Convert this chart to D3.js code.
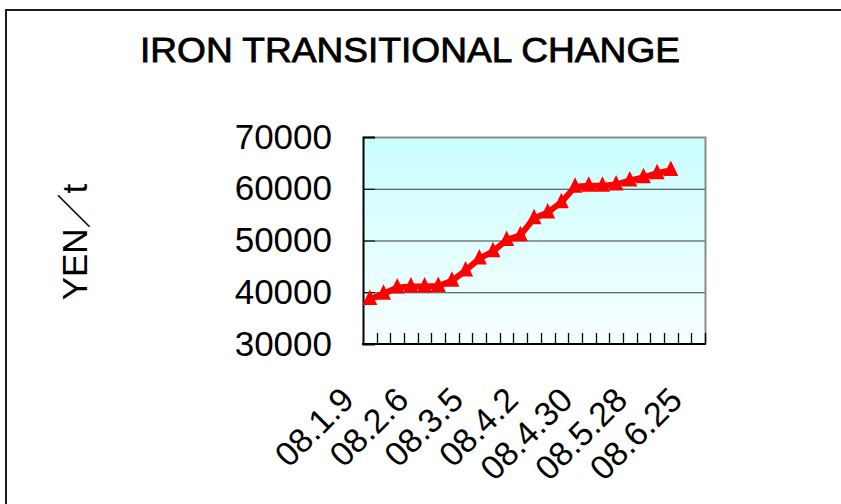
<!DOCTYPE html>
<head>
<meta charset="utf-8">
<script src="https://d3js.org/d3.v7.min.js"></script>
<style>
  body { margin: 0; background: #fff; }
  text { font-family: "Liberation Sans", Arial, "Noto Sans CJK JP", sans-serif; fill: #000; }
</style>
</head>
<body>
<div id="chart"></div>
<script>
  // weekly dates, 08.1.9 .. 08.6.25
  var weeks = ["08.1.9","08.1.16","08.1.23","08.1.30","08.2.6","08.2.13","08.2.20","08.2.27",
               "08.3.5","08.3.12","08.3.19","08.3.26","08.4.2","08.4.9","08.4.16","08.4.23",
               "08.4.30","08.5.7","08.5.14","08.5.21","08.5.28","08.6.4","08.6.11","08.6.18","08.6.25"];
  var shownLabels = ["08.1.9","08.2.6","08.3.5","08.4.2","08.4.30","08.5.28","08.6.25"];
  // price (YEN/t); last two weeks have no value
  var prices = [38700, 39700, 40900, 41100, 41100, 41200, 42200, 44200, 46500, 47900, 50100, 51000,
                54300, 55400, 57400, 60400, 60600, 60600, 60800, 61600, 62200, 63000, 63600];
  var yTicks = [30000, 40000, 50000, 60000, 70000];
  var gridValues = [40000, 50000, 60000];

  var width = 841, height = 504;
  var plot = {left: 363, top: 137, right: 705, bottom: 344};

  var svg = d3.select("#chart").append("svg")
      .attr("width", width)
      .attr("height", height);

  // outer chart frame
  svg.append("path")
      .attr("d", "M6,504 V10 H841")
      .attr("fill", "none")
      .attr("stroke", "#1a1a1a")
      .attr("stroke-width", 2);

  svg.append("text")
      .attr("x", 410).attr("y", 62)
      .attr("text-anchor", "middle")
      .attr("textLength", 540)
      .attr("lengthAdjust", "spacingAndGlyphs")
      .style("font-size", "35px")
      .style("stroke", "#000")
      .style("stroke-width", 0.8)
      .text("IRON TRANSITIONAL CHANGE");

  var x = d3.scaleBand().domain(weeks).range([plot.left, plot.right]).padding(0);
  var y = d3.scaleLinear().domain([30000, 70000]).range([plot.bottom, plot.top]);

  // plot background gradient
  var grad = svg.append("defs").append("linearGradient")
      .attr("id", "bg").attr("x1", 0).attr("y1", 0).attr("x2", 0).attr("y2", 1);
  grad.append("stop").attr("offset", "0%").attr("stop-color", "#c9fdfd");
  grad.append("stop").attr("offset", "100%").attr("stop-color", "#f8ffff");

  svg.append("rect")
      .attr("x", plot.left).attr("y", plot.top)
      .attr("width", plot.right - plot.left).attr("height", plot.bottom - plot.top)
      .attr("fill", "url(#bg)");

  // gridlines
  svg.append("g").selectAll("line")
      .data(gridValues)
      .enter().append("line")
      .attr("x1", plot.left).attr("x2", plot.right)
      .attr("y1", function(d) { return y(d) + 0.5; })
      .attr("y2", function(d) { return y(d) + 0.5; })
      .attr("stroke", "#3a3a3a").attr("stroke-width", 1);

  // plot border: top and right grey
  svg.append("path")
      .attr("d", "M" + plot.left + "," + (plot.top + 0.5) + " H" + (plot.right + 0.5) + " V" + plot.bottom)
      .attr("fill", "none").attr("stroke", "#8a8a8a").attr("stroke-width", 2);

  // y axis, ticks inward
  var yAxis = svg.append("g")
      .attr("transform", "translate(" + plot.left + ",0)")
      .call(d3.axisLeft(y).tickValues(yTicks).tickSize(-12).tickPadding(31).tickFormat(d3.format("d")));
  yAxis.select(".domain").attr("stroke", "#000").attr("stroke-width", 2);
  yAxis.selectAll(".tick line").attr("stroke", "#000");
  yAxis.selectAll("text")
      .style("font-size", "35px")
      .style("font-family", "'Liberation Sans', Arial, sans-serif");

  // x axis: ticks between categories, pointing up
  var xTickPos = weeks.map(function(w) { return x(w); }).concat([plot.right]);
  svg.append("g").selectAll("line")
      .data(xTickPos.slice(1))
      .enter().append("line")
      .attr("x1", function(d) { return Math.round(d) + 0.5; })
      .attr("x2", function(d) { return Math.round(d) + 0.5; })
      .attr("y1", plot.bottom).attr("y2", plot.bottom - 11)
      .attr("stroke", "#000").attr("stroke-width", 1.3);
  svg.append("line")
      .attr("x1", plot.left - 1).attr("x2", plot.right + 1)
      .attr("y1", plot.bottom).attr("y2", plot.bottom)
      .attr("stroke", "#000").attr("stroke-width", 2);

  svg.append("g").selectAll("text")
      .data(shownLabels)
      .enter().append("text")
      .attr("text-anchor", "end")
      .attr("transform", function(d) {
        return "translate(" + (x(d) + x.bandwidth() / 2 - 14) + ",402) rotate(-45)";
      })
      .style("font-size", "34px")
      .text(function(d) { return d; });

  // y title
  svg.append("text")
      .attr("transform", "translate(87,242) rotate(-90)")
      .attr("text-anchor", "middle")
      .style("font-size", "35px")
      .text("YEN／t");

  // series line + triangle markers
  var pts = prices.map(function(v, i) { return {x: x(weeks[i]) + x.bandwidth() / 2, y: y(v)}; });
  svg.append("path")
      .datum(pts)
      .attr("d", d3.line().x(function(d) { return d.x; }).y(function(d) { return d.y; }))
      .attr("fill", "none")
      .attr("stroke", "#ff0000")
      .attr("stroke-width", 6)
      .attr("stroke-linejoin", "round");

  svg.append("g").selectAll("path")
      .data(pts)
      .enter().append("path")
      .attr("transform", function(d) { return "translate(" + d.x + "," + d.y + ")"; })
      .attr("d", "M0,-9.5 L7.5,6 L-7.5,6 Z")
      .attr("fill", "#ff0000");
</script>
</body>
</html>
